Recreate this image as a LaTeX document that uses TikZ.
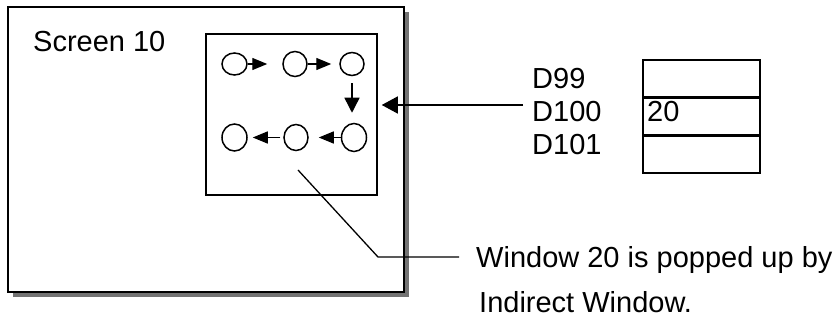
\documentclass[tikz,border=0pt]{standalone}
\usepackage{fontspec}
\setmainfont{Liberation Sans}
\usetikzlibrary{shapes.geometric,arrows.meta}
\begin{document}
\begin{tikzpicture}[x=1pt,y=-1pt,
  txt/.style={anchor=base west,inner sep=0pt,font=\fontsize{29}{34}\selectfont},
  circ/.style={draw,ellipse,line width=1.5pt,inner sep=0pt},
  sarr/.style={line width=1.4pt,-{Triangle[length=15pt,width=12pt]}},
  cell/.style={draw,line width=1.6pt,minimum width=117pt,minimum height=36.5pt,inner sep=0pt},
  ln/.style={line width=1.3pt}]
\useasboundingbox (0,0) rectangle (839,320);
% outer screen with shadow
\fill[gray!90!black] (13,12) rectangle (409,297);
\node[draw,fill=white,line width=1.8pt,minimum width=396pt,minimum height=285pt,inner sep=0pt] (scr) at (206,149.5) {};
\node[txt] (stxt) at (33,52) {Screen 10};
% window
\node[draw,line width=1.5pt,minimum width=171pt,minimum height=161pt,inner sep=0pt] (win) at (291.5,114.5) {};
% circles
\node[circ,minimum width=25pt,minimum height=22pt] (c1) at (234.5,64) {};
\node[circ,minimum width=24pt,minimum height=25pt] (c2) at (295,64) {};
\node[circ,minimum width=24pt,minimum height=23pt] (c3) at (352,64) {};
\node[circ,minimum width=25pt,minimum height=27pt] (c4) at (234.5,137.5) {};
\node[circ,minimum width=24pt,minimum height=26pt] (c5) at (296,137.5) {};
\node[circ,minimum width=25pt,minimum height=28pt] (c6) at (354,137.5) {};
\draw[sarr,shorten >=15pt] (c1.east) -- (c2.west);
\draw[sarr,shorten >=8pt] (c2.east) -- (c3.west);
\draw[line width=1.4pt,-{Triangle[length=15pt,width=15pt]},shorten <=7pt,shorten >=10pt] (c3.south) -- (c3.south |- c6.north);
\draw[sarr,shorten >=10pt] (c6.west) -- (c5.east);
\draw[sarr,shorten <=3pt,shorten >=5pt] (c5.west) -- (c4.east);
% registers
\node[cell] (r1) at (701.5,78.5) {};
\node[cell,anchor=north] (r2) at (r1.south) {};
\node[cell,anchor=north] (r3) at (r2.south) {};
\node[txt] (v20) at (647,122) {20};
\node[txt] (d99) at (532,89) {D99};
\node[txt] (d100) at (532,122) {D100};
\node[txt] (d101) at (532,155) {D101};
% pointer from D100
\coordinate (dp) at (523,105);
\draw[ln,-{Triangle[length=16pt,width=17pt]},shorten >=4pt] (dp) -- (win.east |- dp);
% callout
\coordinate (k1) at (298,170);
\coordinate (k2) at (378,257);
\coordinate (k3) at (459,257);
\draw[ln] (k1) -- (k2) -- (k3);
\node[txt] (n1) at (476,268) {Window 20 is popped up by};
\node[txt] (n2) at (479,313) {Indirect Window.};
\end{tikzpicture}
\end{document}
